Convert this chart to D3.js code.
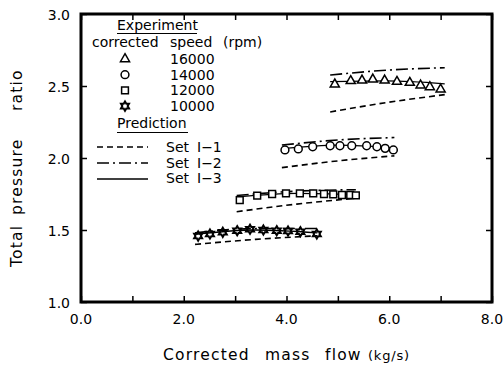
<!DOCTYPE html>
<html>
<head>
<meta charset="utf-8">
<script src="https://cdn.jsdelivr.net/npm/d3@7"></script>
<style>
  body { margin: 0; background: #fff; }
  svg { display: block; }
  text { font-family: "DejaVu Sans", sans-serif; fill: #000; }
</style>
</head>
<body>
<div id="chart"></div>
<script>
/** experiment data */
let speeds = ["16000", "14000", "12000", "10000"];

let flow16000 = [4.94, 5.25, 5.47, 5.68, 5.91, 6.15, 6.40, 6.61, 6.79, 7.00];
let ratio16000 = [2.519, 2.542, 2.546, 2.553, 2.546, 2.537, 2.530, 2.512, 2.500, 2.484];

let flow14000 = [3.97, 4.23, 4.51, 4.85, 5.04, 5.27, 5.56, 5.76, 5.92, 6.08];
let ratio14000 = [2.056, 2.063, 2.078, 2.085, 2.085, 2.085, 2.085, 2.078, 2.067, 2.056];

let flow12000 = [3.09, 3.43, 3.72, 3.99, 4.26, 4.52, 4.73, 4.91, 5.08, 5.24, 5.35];
let ratio12000 = [1.708, 1.738, 1.750, 1.755, 1.755, 1.755, 1.750, 1.748, 1.743, 1.743, 1.740];

let flow10000 = [2.28, 2.51, 2.76, 3.04, 3.29, 3.55, 3.81, 4.03, 4.27, 4.59];
let ratio10000 = [1.458, 1.472, 1.484, 1.495, 1.505, 1.500, 1.495, 1.493, 1.488, 1.472];

/** prediction curves: flow points and ratio for sets I-1, I-2, I-3 */
let predFlow16000 = [4.85, 5.95, 7.08];
let set1_16000 = [2.32, 2.385, 2.44];
let set2_16000 = [2.576, 2.61, 2.627];
let set3_16000 = [2.53, 2.535, 2.515];

let predFlow14000 = [3.91, 5.0, 6.1];
let set1_14000 = [1.933, 1.98, 2.015];
let set2_14000 = [2.09, 2.125, 2.142];
let set3_14000 = [2.065, 2.09, 2.07];

let predFlow12000 = [3.03, 4.2, 5.35];
let set1_12000 = [1.627, 1.68, 1.72];
let set2_12000 = [1.74, 1.77, 1.78];
let set3_12000 = [1.73, 1.755, 1.745];

let predFlow10000 = [2.22, 3.4, 4.6];
let set1_10000 = [1.40, 1.435, 1.46];
let set2_10000 = [1.48, 1.51, 1.51];
let set3_10000 = [1.47, 1.50, 1.48];

let xTicks = [0, 2, 4, 6, 8];
let yTicks = [1.0, 1.5, 2.0, 2.5, 3.0];
let setNames = ["I\u22121", "I\u22122", "I\u22123"];

/** set up size and scales */
let width = 504;
let height = 365;
let mLeft = 81, mRight = 492, mTop = 14, mBottom = 302;

let svg = d3.select('#chart')
  .append('svg')
  .attr('width', width)
  .attr('height', height);

let x = d3.scaleLinear().domain([0, 8]).range([mLeft, mRight]);
let y = d3.scaleLinear().domain([1, 3]).range([mBottom, mTop]);

let dashStyle = ["6,4", "12,4,2,4", null];

/** prediction lines */
let line = d3.line()
  .x(d => x(d[0]))
  .y(d => y(d[1]))
  .curve(d3.curveMonotoneX);

let predictions = [
  [predFlow16000, [set1_16000, set2_16000, set3_16000]],
  [predFlow14000, [set1_14000, set2_14000, set3_14000]],
  [predFlow12000, [set1_12000, set2_12000, set3_12000]],
  [predFlow10000, [set1_10000, set2_10000, set3_10000]]
];

predictions.forEach(function (p) {
  p[1].forEach(function (vals, i) {
    svg.append('path')
      .datum(p[0].map((f, j) => [f, vals[j]]))
      .attr('d', line)
      .attr('fill', 'none')
      .attr('stroke', '#000')
      .attr('stroke-width', i == 2 ? 1.3 : 1.6)
      .attr('stroke-dasharray', dashStyle[i]);
  });
});

/** marker shapes */
function hexagram(r) {
  let p = d3.path();
  for (let k = 0; k < 12; k++) {
    let a = -Math.PI / 2 + k * Math.PI / 6;
    let rr = k % 2 == 0 ? r : r * 0.58;
    if (k == 0) p.moveTo(rr * Math.cos(a), rr * Math.sin(a));
    else p.lineTo(rr * Math.cos(a), rr * Math.sin(a));
  }
  p.closePath();
  return p.toString();
}
let markers = [
  d3.symbol(d3.symbolTriangle, 36)(),
  d3.symbol(d3.symbolCircle, 48)(),
  d3.symbol(d3.symbolSquare, 46)(),
  hexagram(4.6)
];

let experiments = [
  [flow16000, ratio16000],
  [flow14000, ratio14000],
  [flow12000, ratio12000],
  [flow10000, ratio10000]
];

experiments.forEach(function (e, i) {
  svg.selectAll('.m' + i)
    .data(e[0].map((f, j) => [f, e[1][j]]))
    .enter()
    .append('path')
    .attr('class', 'm' + i)
    .attr('d', markers[i])
    .attr('transform', d => `translate(${x(d[0])},${y(d[1]) + (i == 0 ? 1 : 0)})`)
    .attr('fill', i == 3 ? 'none' : '#fff')
    .attr('stroke', '#000')
    .attr('stroke-width', i == 3 ? 2 : 1.5);
});

/** axes */
svg.append('g')
  .attr('transform', `translate(0,${mBottom})`)
  .call(d3.axisBottom(x).tickValues(d3.range(0, 9)).tickSize(-6).tickFormat(''))
  .call(g => g.select('.domain').remove());
svg.append('g')
  .attr('transform', `translate(0,${mTop})`)
  .call(d3.axisTop(x).tickValues(d3.range(0, 9)).tickSize(-6).tickFormat(''))
  .call(g => g.select('.domain').remove());
svg.append('g')
  .attr('transform', `translate(${mLeft},0)`)
  .call(d3.axisLeft(y).tickValues(yTicks).tickSize(-6).tickFormat(''))
  .call(g => g.select('.domain').remove());
svg.append('g')
  .attr('transform', `translate(${mRight},0)`)
  .call(d3.axisRight(y).tickValues(yTicks).tickSize(-6).tickFormat(''))
  .call(g => g.select('.domain').remove());
svg.selectAll('.tick line').attr('stroke-width', 1.5);

svg.append('rect')
  .attr('x', mLeft)
  .attr('y', mTop)
  .attr('width', mRight - mLeft)
  .attr('height', mBottom - mTop)
  .attr('fill', 'none')
  .attr('stroke', '#000')
  .attr('stroke-width', 3);

svg.selectAll('.xlab')
  .data(xTicks)
  .enter()
  .append('text')
  .attr('x', d => x(d))
  .attr('y', 324)
  .attr('text-anchor', 'middle')
  .style('font-size', '14px')
  .text(d => d.toFixed(1));

svg.selectAll('.ylab')
  .data(yTicks)
  .enter()
  .append('text')
  .attr('x', 70)
  .attr('y', d => y(d) + 6)
  .attr('text-anchor', 'end')
  .style('font-size', '14px')
  .text(d => d.toFixed(1));

/** axis titles, word by word */
let xTitle = svg.append('text').attr('y', 360)
  .style('font-size', '15.5px').style('letter-spacing', '1.2px');
xTitle.append('tspan').attr('x', 163).text('Corrected');
xTitle.append('tspan').attr('x', 265).text('mass');
xTitle.append('tspan').attr('x', 325).text('flow');
xTitle.append('tspan').attr('x', 368).style('font-size', '13px').style('letter-spacing', '0.8px').text('(kg/s)');

let yTitle = svg.append('text').attr('transform', 'translate(22,0) rotate(-90)')
  .style('font-size', '15.5px').style('letter-spacing', '1.2px');
yTitle.append('tspan').attr('x', -267).text('Total');
yTitle.append('tspan').attr('x', -215).text('pressure');
yTitle.append('tspan').attr('x', -111).text('ratio');

/** legend */
let leg = svg.append('g').style('font-size', '14px');
leg.append('text').attr('x', 117).attr('y', 30).text('Experiment');
leg.append('line').attr('x1', 117).attr('x2', 197).attr('y1', 33.5).attr('y2', 33.5)
  .attr('stroke', '#000').attr('stroke-width', 1);
let head = leg.append('text').attr('y', 47);
head.append('tspan').attr('x', 92).text('corrected');
head.append('tspan').attr('x', 170).text('speed');
head.append('tspan').attr('x', 223).text('(rpm)');

speeds.forEach(function (s, i) {
  leg.append('path')
    .attr('d', markers[i])
    .attr('transform', `translate(125,${59 + i * 15.7})`)
    .attr('fill', i == 3 ? 'none' : '#fff')
    .attr('stroke', '#000')
    .attr('stroke-width', i == 3 ? 2 : 1.5);
  leg.append('text')
    .attr('x', 170)
    .attr('y', 64 + i * 15.7)
    .text(s);
});

leg.append('text').attr('x', 117).attr('y', 128).text('Prediction');
leg.append('line').attr('x1', 117).attr('x2', 188).attr('y1', 132.5).attr('y2', 132.5)
  .attr('stroke', '#000').attr('stroke-width', 1);

setNames.forEach(function (s, i) {
  leg.append('line')
    .attr('x1', 97).attr('x2', 148)
    .attr('y1', 147 + i * 16).attr('y2', 147 + i * 16)
    .attr('stroke', '#000')
    .attr('stroke-width', i == 2 ? 1.3 : 1.6)
    .attr('stroke-dasharray', dashStyle[i]);
  let t = leg.append('text').attr('y', 152 + i * 15.5);
  t.append('tspan').attr('x', 166).text('Set');
  t.append('tspan').attr('x', 197).text(s);
});
</script>
</body>
</html>
